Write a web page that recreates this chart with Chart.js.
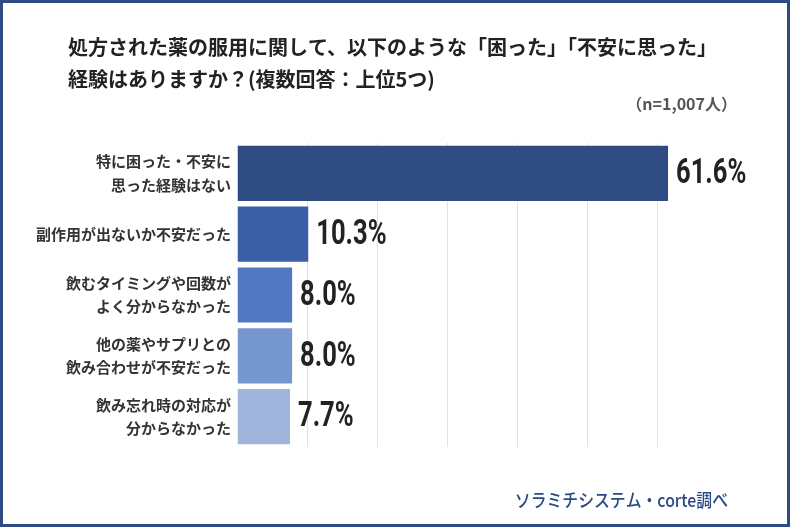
<!DOCTYPE html>
<html lang="ja">
<head>
<meta charset="utf-8">
<title>処方された薬の服用に関する困りごと</title>
<script src="https://cdn.jsdelivr.net/npm/chart.js@4.4.1/dist/chart.umd.min.js"></script>
<style>
  html, body { margin: 0; padding: 0; background: #fff; }
  #wrap { position: relative; width: 790px; height: 527px; }
</style>
</head>
<body>
<div id="wrap"><canvas id="chart" width="790" height="527"></canvas></div>
<script>
// Data
const categories = [
  ['特に困った・不安に', '思った経験はない'],
  ['副作用が出ないか不安だった'],
  ['飲むタイミングや回数が', 'よく分からなかった'],
  ['他の薬やサプリとの', '飲み合わせが不安だった'],
  ['飲み忘れ時の対応が', '分からなかった']
];
const values = [61.6, 10.3, 8.0, 8.0, 7.7];
const valueLabels = ['61.6%', '10.3%', '8.0%', '8.0%', '7.7%'];
const barColors = ['#2e4c82', '#3a5fa7', '#5078c0', '#7697cd', '#a0b4dc'];
const titleLines = [
  '処方された薬の服用に関して、以下のような「困った」「不安に思った」',
  '経験はありますか？(複数回答：上位5つ)'
];
const sampleNote = '（n=1,007人）';
const sourceNote = 'ソラミチシステム・corte調べ';

const JP = '"Noto Sans CJK JP", "Noto Sans", sans-serif';

// Title, notes and frame
const decorPlugin = {
  id: 'decor',
  afterDraw(chart) {
    const ctx = chart.ctx;
    ctx.save();
    ctx.textBaseline = 'middle';
    ctx.fillStyle = '#222';
    ctx.font = 'bold 20px ' + JP;
    ctx.textAlign = 'left';
    ctx.fillText(titleLines[0], 68, 47);
    ctx.fillText(titleLines[1], 68, 79);

    ctx.fillStyle = '#555';
    ctx.font = 'bold 16px ' + JP;
    ctx.textAlign = 'right';
    ctx.fillText(sampleNote, 737, 104);

    // source note, slightly condensed
    ctx.save();
    ctx.fillStyle = '#2b4a82';
    ctx.font = '500 18px ' + JP;
    ctx.translate(728, 500);
    ctx.scale(0.88, 1);
    ctx.fillText(sourceNote, 0, 0);
    ctx.restore();

    ctx.strokeStyle = '#2e4c82';
    ctx.lineWidth = 3;
    ctx.strokeRect(1.5, 1.5, chart.width - 3, chart.height - 3);
    ctx.restore();
  }
};

// Big condensed value labels at bar ends
const valuePlugin = {
  id: 'values',
  afterDatasetsDraw(chart) {
    const ctx = chart.ctx;
    const meta = chart.getDatasetMeta(0);
    ctx.save();
    ctx.fillStyle = '#222';
    ctx.font = 'bold 35px Roboto, sans-serif';
    ctx.textBaseline = 'middle';
    ctx.textAlign = 'left';
    meta.data.forEach((bar, i) => {
      ctx.save();
      ctx.translate(bar.x + 7, bar.y + 1);
      ctx.scale(0.73, 1);
      ctx.fillText(valueLabels[i], 0, 0);
      ctx.restore();
    });
    ctx.restore();
  }
};

new Chart(document.getElementById('chart'), {
  type: 'bar',
  data: {
    labels: categories,
    datasets: [{
      data: values,
      backgroundColor: barColors,
      borderColor: 'rgba(255,255,255,0.55)',
      borderWidth: 1,
      barPercentage: 0.94,
      categoryPercentage: 1
    }]
  },
  options: {
    indexAxis: 'y',
    responsive: false,
    animation: false,
    layout: { padding: { left: 0, right: 48, top: 143, bottom: 80 } },
    plugins: {
      legend: { display: false },
      tooltip: { enabled: false }
    },
    scales: {
      x: {
        min: 0,
        max: 72,
        ticks: { display: false, stepSize: 10 },
        border: { display: false },
        grid: {
          drawTicks: false,
          color: c => (c.tick && c.tick.value > 0 && c.tick.value % 10 === 0) ? '#e2e2e2' : 'rgba(0,0,0,0)'
        }
      },
      y: {
        afterFit: s => { s.width = 237; },
        border: { display: false },
        grid: { display: false, drawTicks: false },
        ticks: {
          color: '#333',
          padding: 6,
          font: { family: JP, size: 15, weight: 'bold', lineHeight: 1.55 }
        }
      }
    }
  },
  plugins: [decorPlugin, valuePlugin]
});
</script>
</body>
</html>
